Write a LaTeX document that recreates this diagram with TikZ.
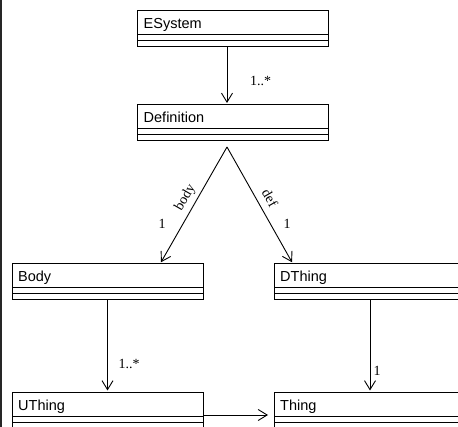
\documentclass[tikz,border=0pt]{standalone}
\usepackage{fontspec}
\setmainfont{Liberation Serif}
\setsansfont{Liberation Sans}
\usetikzlibrary{arrows.meta}
\newcommand{\umlcls}[5]{%
  \node[clsbox, minimum width=#4pt] (#1) at (#2,#3) {};
  \node[clsname] (#1-name) at ([xshift=6pt,yshift=-18pt]#1.north west) {#5};
  \draw[clsline] ([yshift=-24pt]#1.north west) -- ([yshift=-24pt]#1.north east);
  \draw[clsline] ([yshift=-30pt]#1.north west) -- ([yshift=-30pt]#1.north east);
}
\begin{document}
\begin{tikzpicture}[x=1pt,y=-1pt,
  clsbox/.style={draw, line width=1pt, anchor=north west, minimum height=36pt, inner sep=0pt, outer sep=0pt},
  clsname/.style={anchor=base west, inner sep=0pt, font=\sffamily\fontsize{14.5}{16}\selectfont},
  clsline/.style={line width=1pt},
  assoc/.style={line width=0.9pt, -{Straight Barb[length=9pt,width=11pt]}, shorten >=2pt},
  lbl/.style={inner sep=0pt, font=\rmfamily\fontsize{14}{16}\selectfont}]
\clip (0,0) rectangle (458,427);
\fill[white] (0,0) rectangle (458,427);
\fill[black!85] (0,0) rectangle (2,427);
\umlcls{ESystem}{137.5}{10.5}{191}{ESystem}
\umlcls{Definition}{137.5}{105}{191}{Definition}
\umlcls{Body}{12}{264}{191}{Body}
\umlcls{DThing}{274}{264}{192}{DThing}
\umlcls{UThing}{12}{392.5}{191}{UThing}
\umlcls{Thing}{274}{392.5}{192}{Thing}
\coordinate (apex) at ([xshift=-6pt,yshift=-6pt]Definition.south);
\coordinate (bodyend) at ([xshift=148pt]Body.north west);
\coordinate (dthingend) at ([xshift=19pt]DThing.north west);
\draw[assoc] ([xshift=-6pt]ESystem.south) -- ([xshift=-6pt]Definition.north);
\draw[assoc] (apex) -- (bodyend);
\draw[assoc] (apex) -- (dthingend);
\draw[assoc] (Body.south) -- (UThing.north);
\draw[assoc] (DThing.south) -- (Thing.north);
\draw[assoc, shorten >=6pt] ([yshift=-4.5pt]UThing.east) -- ([yshift=-4.5pt]Thing.west);
\node[lbl] (m1) at (260.5,81) {1..*};
\node[lbl] (m2) at (129,364) {1..*};
\node[lbl] (m3) at (377,371) {1};
\node[lbl] (m4) at (162,224) {1};
\node[lbl] (m5) at (287,224) {1};
\node[lbl, rotate=60] (rbody) at (185.5,197.5) {body};
\node[lbl, rotate=-60] (rdef) at (270,198) {def};
\end{tikzpicture}
\end{document}
